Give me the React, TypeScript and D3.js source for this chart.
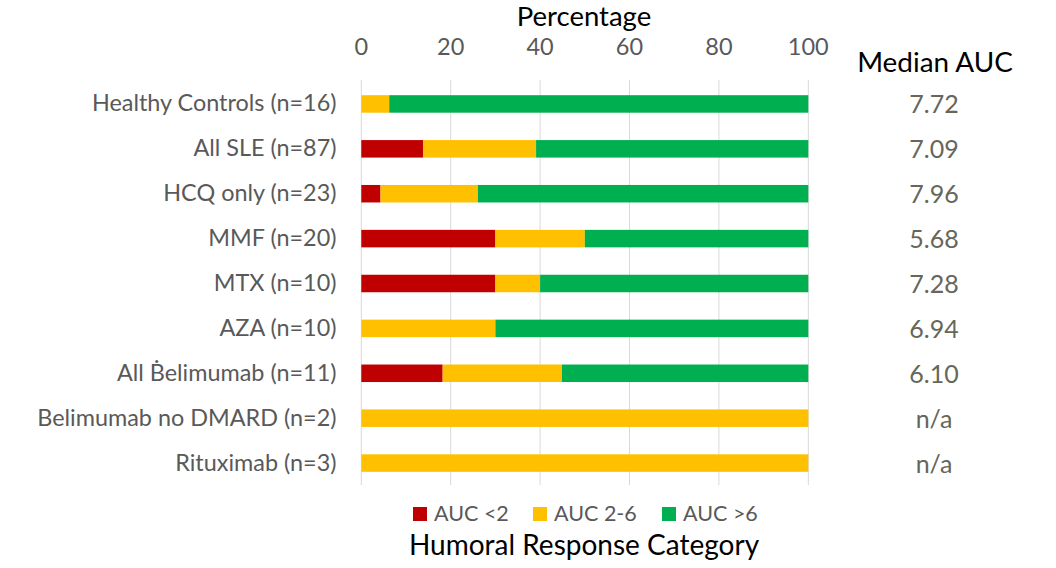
import React from "react";
import * as d3 from "d3";

const categories = [
  "Healthy Controls (n=16)",
  "All SLE (n=87)",
  "HCQ only (n=23)",
  "MMF (n=20)",
  "MTX (n=10)",
  "AZA (n=10)",
  "All Ḃelimumab (n=11)",
  "Belimumab no DMARD (n=2)",
  "Rituximab (n=3)",
];
const aucLow = [0, 13.8, 4.3, 30, 30, 0, 18.2, 0, 0];
const aucMid = [6.25, 25.3, 21.8, 20, 10, 30, 26.7, 100, 100];
const aucHigh = [93.75, 60.9, 73.9, 50, 60, 70, 55.1, 0, 0];
const medianAUC = ["7.72", "7.09", "7.96", "5.68", "7.28", "6.94", "6.10", "n/a", "n/a"];
const xTicks = [0, 20, 40, 60, 80, 100];
const seriesNames = ["AUC <2", "AUC 2-6", "AUC >6"];
const seriesColors = ["#C00000", "#FFC000", "#00B050"];

const W = 1056;
const H = 568;
const FONT = "Lato, 'Open Sans', sans-serif";

export default function App() {
  const x = d3.scaleLinear().domain([0, 100]).range([361.3, 808.3]);
  const y = d3.scaleBand<string>().domain(categories).range([81.5, 485.5]).paddingInner(0.61).paddingOuter(0.305);

  const rows = categories.map((c, i) => ({ c, vals: [aucLow[i], aucMid[i], aucHigh[i]] }));
  const stack = d3.stack<any>().keys(["0", "1", "2"]).value((d, k) => d.vals[+k]);
  const stacked = stack(rows);

  const legendX = [413, 533, 662];

  return (
    <svg width={W} height={H} style={{ position: "absolute", left: 0, top: 0, background: "#fff" }} fontFamily={FONT}>
      <rect width={W} height={H} fill="#fff" />
      <text x={584} y={26} textAnchor="middle" fontSize={27.5} fill="#000">Percentage</text>
      {xTicks.map((t) => (
        <g key={t}>
          <line x1={x(t)} x2={x(t)} y1={80} y2={485} stroke="#D9D9D9" strokeWidth={1} />
          <text x={x(t)} y={55} textAnchor="middle" fontSize={23.5} fill="#595959">{t}</text>
        </g>
      ))}
      {stacked.map((s, si) => (
        <g key={si} fill={seriesColors[si]}>
          {s.map((d, i) => {
            const w = x(d[1]) - x(d[0]);
            if (w <= 0) return null;
            return <rect key={i} x={x(d[0])} y={y(categories[i])} width={w} height={y.bandwidth()} />;
          })}
        </g>
      ))}
      {categories.map((c) => (
        <text key={c} x={336.5} y={(y(c) as number) + y.bandwidth() / 2 + 7.5} textAnchor="end" fontSize={23.4} fill="#595959">{c}</text>
      ))}
      <text x={935} y={72} textAnchor="middle" fontSize={27.9} fill="#000">Median AUC</text>
      {medianAUC.map((m, i) => (
        <text key={i} x={934} y={(y(categories[i]) as number) + y.bandwidth() / 2 + 9.5} textAnchor="middle" fontSize={25} fill="#66665A">{m}</text>
      ))}
      {seriesNames.map((n, i) => (
        <g key={n}>
          <rect x={legendX[i]} y={507} width={14} height={14} fill={seriesColors[i]} />
          <text x={legendX[i] + 21} y={521} fontSize={21.5} fill="#595959">{n}</text>
        </g>
      ))}
      <text x={584} y={555} textAnchor="middle" fontSize={28} fill="#000">Humoral Response Category</text>
    </svg>
  );
}
